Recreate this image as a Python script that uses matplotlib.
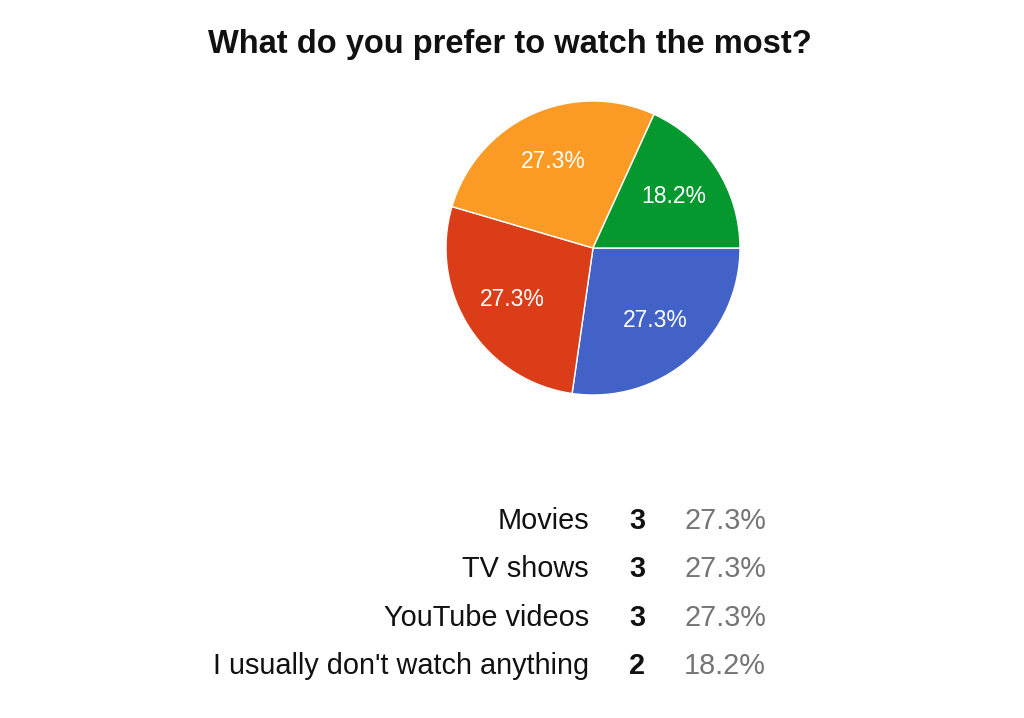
import numpy as np
import matplotlib
matplotlib.use("Agg")
import matplotlib.pyplot as plt

plt.rcParams['font.family'] = ['Liberation Sans', 'DejaVu Sans']

title = "What do you prefer to watch the most?"
labels = ["Movies", "TV shows", "YouTube videos", "I usually don't watch anything"]
counts = [3, 3, 3, 2]
colors = ["#4262C7", "#DA3D18", "#FB9B26", "#04982F"]

W, H = 1024, 718
fig = plt.figure(figsize=(W / 100, H / 100), dpi=100)

cx, cy, r = 593, 248, 147
ax = fig.add_axes([(cx - r) / W, (H - cy - r) / H, 2 * r / W, 2 * r / H])
wedges, _, autotexts = ax.pie(counts, colors=colors, startangle=0, counterclock=False,
                              radius=1, autopct="%.1f%%", pctdistance=0.65,
                              wedgeprops=dict(edgecolor="white", linewidth=1),
                              textprops=dict(color="white", fontsize=16.5))
ax.set_xlim(-1, 1)
ax.set_ylim(-1, 1)
ax.set_aspect("equal")
ax.axis("off")

total = sum(counts)
pcts = [100 * c / total for c in counts]

fig.text(510 / W, 1 - 44 / H, title, fontsize=23.5, fontweight="bold",
         ha="center", va="center", color="#111111")

row_y = [521, 569, 618, 666]
for lab, c, p, y in zip(labels, counts, pcts, row_y):
    yy = 1 - y / H
    fig.text(589 / W, yy, lab, fontsize=20.8, ha="right", va="center", color="#111111")
    fig.text(637 / W, yy, str(c), fontsize=20.8, fontweight="bold",
             ha="center", va="center", color="#111111")
    fig.text(766 / W, yy, f"{p:.1f}%", fontsize=20.8, ha="right", va="center",
             color="#757575")

fig.savefig("out.png", dpi=100, facecolor="white")
